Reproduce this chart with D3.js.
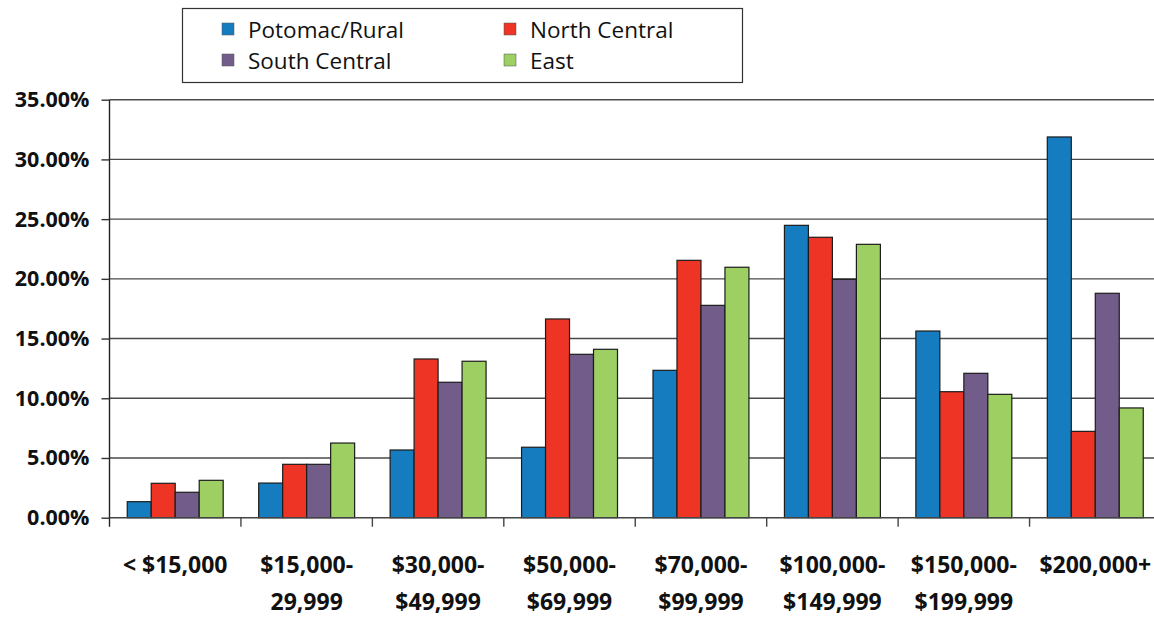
<!DOCTYPE html>
<html>
<head>
<meta charset="utf-8">
<script src="https://cdn.jsdelivr.net/npm/d3@7"></script>
<style>
  body { margin: 0; background: #fff; }
</style>
</head>
<body>
<svg id="chart" width="1154" height="617"></svg>
<script>
// income brackets (a "-" ends the first line of a two-line label)
const categories = ["< $15,000", "$15,000-29,999", "$30,000-$49,999", "$50,000-$69,999",
                    "$70,000-$99,999", "$100,000-$149,999", "$150,000-$199,999", "$200,000+"];
const seriesNames = ["Potomac/Rural", "North Central", "South Central", "East"];
const seriesColors = ["#167cc0", "#ee3424", "#715c8a", "#9dcf62"];

// share of households, percent
const potomacRural = [1.34, 2.9, 5.67, 5.9, 12.34, 24.48, 15.63, 31.88];
const northCentral = [2.88, 4.47, 13.29, 16.64, 21.55, 23.48, 10.55, 7.23];
const southCentral = [2.13, 4.47, 11.34, 13.68, 17.78, 19.96, 12.09, 18.79];
const east         = [3.13, 6.25, 13.1, 14.1, 20.97, 22.89, 10.33, 9.19];

const yTicks = [0, 5, 10, 15, 20, 25, 30, 35];

const seriesValues = [potomacRural, northCentral, southCentral, east];

const svg = d3.select("#chart");
const width = 1154;

// plot area
const plotLeft = 109.5, plotRight = 1161, plotTop = 99.7, plotBottom = 517.7;

const x0 = d3.scaleBand()
    .domain(categories)
    .range([plotLeft, plotRight])
    .paddingInner(0.27)
    .paddingOuter(0.135);

const x1 = d3.scaleBand()
    .domain(seriesNames)
    .range([0, x0.bandwidth()]);

const y = d3.scaleLinear()
    .domain([0, 35])
    .range([plotBottom, plotTop]);

// gridlines
svg.append("g")
    .selectAll("line")
    .data(yTicks.filter(d => d > 0))
    .enter()
    .append("line")
    .attr("x1", plotLeft)
    .attr("x2", width)
    .attr("y1", d => y(d))
    .attr("y2", d => y(d))
    .attr("stroke", "#4a4a4a")
    .attr("stroke-width", 1.4);

// bars
const rows = categories.map((c, i) => ({
    category: c,
    values: seriesNames.map((s, j) => ({ series: s, value: seriesValues[j][i], color: seriesColors[j] }))
}));

const groups = svg.append("g")
    .selectAll("g")
    .data(rows)
    .enter()
    .append("g")
    .attr("transform", d => `translate(${x0(d.category)},0)`);

groups.selectAll("rect")
    .data(d => d.values)
    .enter()
    .append("rect")
    .attr("x", d => x1(d.series))
    .attr("y", d => y(d.value))
    .attr("width", x1.bandwidth())
    .attr("height", d => y(0) - y(d.value))
    .attr("fill", d => d.color)
    .attr("stroke", "#1c1c1c")
    .attr("stroke-width", 1.2);

// y axis
const yAxis = svg.append("g")
    .attr("transform", `translate(${plotLeft},0)`)
    .call(d3.axisLeft(y)
        .tickValues(yTicks)
        .tickSize(8)
        .tickPadding(12)
        .tickFormat(d => d.toFixed(2) + "%"));

yAxis.select(".domain").attr("stroke", "#222").attr("stroke-width", 1.4)
    .attr("d", `M0,${plotTop}V${plotBottom + 9}`);
yAxis.selectAll(".tick line").attr("stroke", "#333").attr("stroke-width", 1.4);
yAxis.selectAll(".tick text")
    .attr("font-family", "'Open Sans', sans-serif")
    .attr("font-weight", "bold")
    .attr("font-size", "21.5px")
    .attr("fill", "#111");

// x axis line and category separators
svg.append("line")
    .attr("x1", plotLeft)
    .attr("x2", width)
    .attr("y1", plotBottom)
    .attr("y2", plotBottom)
    .attr("stroke", "#444")
    .attr("stroke-width", 1.4);

const step = x0.step();
svg.append("g")
    .selectAll("line")
    .data(categories.slice(1))
    .enter()
    .append("line")
    .attr("x1", d => x0(d) - x0.paddingInner() * step / 2)
    .attr("x2", d => x0(d) - x0.paddingInner() * step / 2)
    .attr("y1", plotBottom)
    .attr("y2", plotBottom + 9)
    .attr("stroke", "#444")
    .attr("stroke-width", 1.4);

// category labels
const xLabels = svg.append("g")
    .selectAll("text")
    .data(categories)
    .enter()
    .append("text")
    .attr("x", d => x0(d) + x0.bandwidth() / 2)
    .attr("y", 572.5)
    .attr("text-anchor", "middle")
    .attr("font-family", "'Open Sans', sans-serif")
    .attr("font-weight", "bold")
    .attr("font-size", "23px")
    .attr("fill", "#111");

xLabels.selectAll("tspan")
    .data(d => d.split(/(?<=-)/).map(t => ({ t, cx: x0(d) + x0.bandwidth() / 2 })))
    .enter()
    .append("tspan")
    .attr("x", d => d.cx)
    .attr("dy", (d, i) => i ? 37 : 0)
    .text(d => d.t);

// legend
const legend = svg.append("g");
legend.append("rect")
    .attr("x", 182.5)
    .attr("y", 8.5)
    .attr("width", 560)
    .attr("height", 74)
    .attr("fill", "#fff")
    .attr("stroke", "#333")
    .attr("stroke-width", 1.2);

const legendPos = [
    { x: 222, y: 23 },
    { x: 504, y: 23 },
    { x: 222, y: 54 },
    { x: 504, y: 54 }
];

const items = legend.selectAll("g.item")
    .data(seriesNames)
    .enter()
    .append("g")
    .attr("class", "item")
    .attr("transform", (d, i) => `translate(${legendPos[i].x},${legendPos[i].y})`);

items.append("rect")
    .attr("width", 12)
    .attr("height", 12)
    .attr("fill", (d, i) => seriesColors[i])
    .attr("stroke", "#555")
    .attr("stroke-width", 0.5);

items.append("text")
    .attr("x", 26)
    .attr("y", 14.5)
    .attr("font-family", "'Open Sans', sans-serif")
    .attr("font-size", "22.5px")
    .attr("fill", "#111")
    .text(d => d);
</script>
</body>
</html>
